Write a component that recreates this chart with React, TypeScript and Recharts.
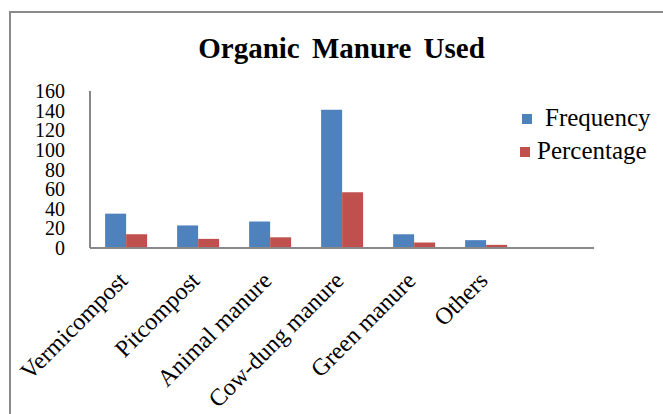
import { BarChart, Bar, XAxis, YAxis } from 'recharts';

const categories = ['Vermicompost', 'Pitcompost', 'Animal manure', 'Cow-dung manure', 'Green manure', 'Others', ''];
const frequency = [35, 23, 27, 141, 14, 8, null];
const percentage = [14.1, 9.3, 10.9, 56.9, 5.6, 3.2, null];
const yTicks = [0, 20, 40, 60, 80, 100, 120, 140, 160];

const data = categories.map((name, i) => ({
  name,
  Frequency: frequency[i],
  Percentage: percentage[i],
}));

const font = '"Liberation Serif", "Times New Roman", serif';

function CategoryTick({ x, y, payload }: any) {
  const ax = x + 3;
  const ay = y + 26;
  return (
    <text
      x={ax}
      y={ay}
      transform={`rotate(-45, ${ax}, ${ay})`}
      textAnchor="end"
      fontFamily={font}
      fontSize={24}
      fill="#000"
    >
      {payload.value}
    </text>
  );
}

function LegendBox() {
  const items = [
    { label: 'Frequency', color: '#4F81BD', sq: 522, tx: 545, y: 119 },
    { label: 'Percentage', color: '#C0504D', sq: 520, tx: 537, y: 152 },
  ];
  return (
    <div style={{ position: 'absolute', left: 0, top: 0, width: 663, height: 414, pointerEvents: 'none' }}>
      {items.map((it) => (
        <div key={it.label}>
          <div style={{ position: 'absolute', left: it.sq, top: it.y - 5, width: 10, height: 10, background: it.color }} />
          <div
            style={{
              position: 'absolute',
              left: it.tx,
              top: it.y - 15,
              fontFamily: font,
              fontSize: 25,
              lineHeight: '28px',
              color: '#000',
              whiteSpace: 'nowrap',
            }}
          >
            {it.label}
          </div>
        </div>
      ))}
    </div>
  );
}

export default function App() {
  return (
    <div style={{ position: 'absolute', left: 0, top: 0, width: 663, height: 414, overflow: 'hidden', background: '#fff' }}>
      <div
        style={{
          position: 'absolute',
          left: 9,
          top: 11,
          width: 700,
          height: 500,
          border: '2px solid #8a8a8a',
        }}
      />
      <div
        style={{
          position: 'absolute',
          left: 0,
          width: 663,
          top: 28,
          textAlign: 'center',
          fontFamily: font,
          fontWeight: 'bold',
          fontSize: 29,
          lineHeight: '40px',
          wordSpacing: 5,
          paddingLeft: 20,
          boxSizing: 'border-box',
        }}
      >
        Organic Manure Used
      </div>
      <div style={{ position: 'absolute', left: 0, top: 0 }}>
        <BarChart
          width={663}
          height={414}
          data={data}
          margin={{ top: 91, right: 69, left: 0, bottom: 0 }}
          barCategoryGap="21%"
          barGap={0}
        >
          <XAxis
            dataKey="name"
            interval={0}
            tick={<CategoryTick />}
            tickLine={false}
            axisLine={{ stroke: '#888', strokeWidth: 2 }}
            height={166}
          />
          <YAxis
            domain={[0, 160]}
            ticks={yTicks}
            interval={0}
            width={90}
            tickSize={0}
            tickMargin={25}
            tickLine={false}
            axisLine={{ stroke: '#888', strokeWidth: 2 }}
            tick={{ fontFamily: font, fontSize: 20, fill: '#000' }}
          />
          <Bar dataKey="Frequency" fill="#4F81BD" isAnimationActive={false} />
          <Bar dataKey="Percentage" fill="#C0504D" isAnimationActive={false} />
        </BarChart>
      </div>
      <LegendBox />
    </div>
  );
}
